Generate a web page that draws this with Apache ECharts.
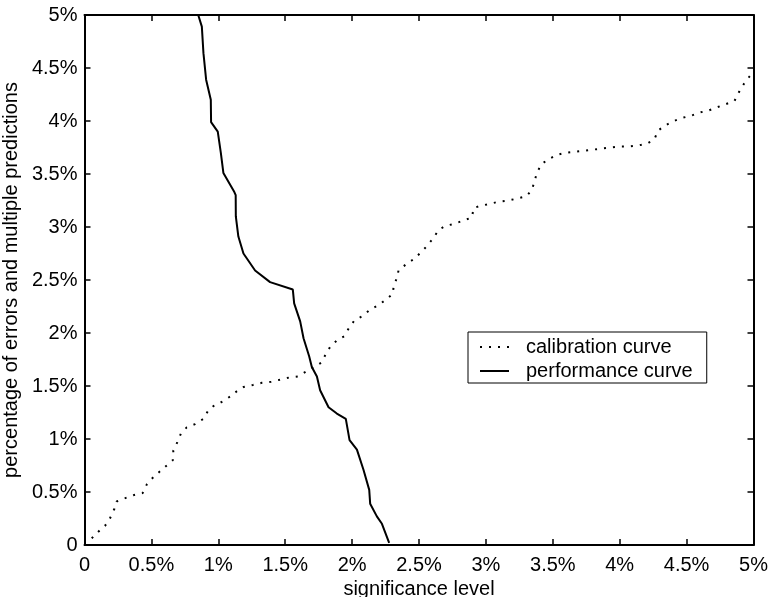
<!DOCTYPE html>
<html>
<head>
<meta charset="utf-8">
<script src="https://cdn.jsdelivr.net/npm/echarts@6/dist/echarts.min.js"></script>
<style>
html,body{margin:0;padding:0;background:#fff;}
#chart{width:770px;height:597px;}
</style>
</head>
<body>
<div id="chart"></div>
<script>
// Axis ticks (percent units)
const xTicks = [0, 0.5, 1, 1.5, 2, 2.5, 3, 3.5, 4, 4.5, 5];
const yTicks = [0, 0.5, 1, 1.5, 2, 2.5, 3, 3.5, 4, 4.5, 5];

// calibration curve (dotted)
const calX = [0.054,0.103,0.153,0.19,0.223,0.24,0.30,0.365,0.435,0.465,0.507,0.56,0.61,0.66,0.664,0.694,0.72,0.764,0.826,0.889,0.921,0.963,1.026,1.088,1.138,1.188,1.258,1.325,1.395,1.462,1.53,1.594,1.662,1.769,1.799,1.836,1.886,1.941,1.978,2.018,2.078,2.135,2.193,2.248,2.305,2.31,2.335,2.347,2.405,2.464,2.514,2.559,2.604,2.646,2.696,2.764,2.829,2.896,2.908,2.963,3.033,3.10,3.17,3.237,3.302,3.345,3.362,3.382,3.412,3.469,3.532,3.594,3.664,3.73,3.80,3.868,3.938,4.005,4.075,4.142,4.21,4.26,4.287,4.342,4.404,4.469,4.534,4.598,4.666,4.729,4.796,4.858,4.89,4.928,4.97,5.0];
const calY = [0.063,0.125,0.18,0.25,0.34,0.41,0.44,0.47,0.49,0.57,0.63,0.69,0.745,0.80,0.89,0.97,1.05,1.11,1.14,1.19,1.26,1.31,1.35,1.40,1.45,1.49,1.51,1.53,1.54,1.56,1.58,1.59,1.64,1.72,1.79,1.87,1.93,1.97,2.05,2.12,2.16,2.22,2.26,2.31,2.37,2.44,2.52,2.59,2.65,2.70,2.76,2.82,2.89,2.97,3.01,3.03,3.06,3.09,3.18,3.20,3.22,3.24,3.25,3.27,3.29,3.35,3.43,3.51,3.59,3.64,3.68,3.70,3.71,3.72,3.73,3.74,3.75,3.76,3.76,3.77,3.79,3.83,3.91,3.96,4.00,4.03,4.05,4.08,4.10,4.13,4.16,4.19,4.27,4.35,4.42,4.46];

// performance curve (solid)
const perfX = [0.85,0.877,0.889,0.909,0.944,0.946,0.996,1.019,1.038,1.12,1.13,1.131,1.15,1.188,1.275,1.387,1.557,1.567,1.612,1.637,1.679,1.699,1.737,1.761,1.824,1.886,1.953,1.981,2.036,2.085,2.128,2.135,2.185,2.223,2.277];
const perfY = [5,4.89,4.64,4.39,4.20,3.99,3.90,3.70,3.51,3.33,3.30,3.10,2.91,2.75,2.59,2.48,2.41,2.28,2.11,1.95,1.78,1.68,1.59,1.46,1.30,1.24,1.19,0.99,0.90,0.71,0.52,0.39,0.27,0.20,0.02];

const seriesNames = ['calibration curve', 'performance curve'];
const xName = 'significance level';
const yName = 'percentage of errors and multiple predictions';

const FONT = '"Liberation Sans", Arial, Helvetica, sans-serif';
const fmt = v => (v === 0 ? '0' : (Math.round(v * 10) / 10) + '%');

const baseAxis = {
  type: 'value', min: 0, max: 5, interval: 0.5,
  axisLine: { show: true, onZero: false, lineStyle: { color: '#000', width: 2 } },
  axisTick: { show: true, inside: true, length: 6, lineStyle: { color: '#000', width: 1.5 } },
  splitLine: { show: false }
};

const chart = echarts.init(document.getElementById('chart'), null, { renderer: 'canvas' });
chart.setOption({
  backgroundColor: '#fff',
  animation: false,
  textStyle: { fontFamily: FONT, color: '#000' },
  grid: { left: 84.5, right: 16.5, top: 15, bottom: 52, containLabel: false, outerBoundsMode: 'none' },
  legend: {
    orient: 'vertical',
    left: 468, top: 332,
    data: seriesNames,
    itemWidth: 29, itemHeight: 14, itemGap: 2,
    padding: [4, 14, 1, 11],
    borderColor: '#000', borderWidth: 1,
    backgroundColor: '#fff',
    itemStyle: { opacity: 0 },
    textStyle: { fontFamily: FONT, fontSize: 20, color: '#000', lineHeight: 22, padding: [0, 0, 0, 12] }
  },
  xAxis: [
    Object.assign({}, baseAxis, {
      position: 'bottom',
      name: xName, nameLocation: 'middle', nameGap: 33,
      nameTextStyle: { fontFamily: FONT, fontSize: 20, color: '#000' },
      axisLabel: { show: true, margin: 10, fontSize: 20, color: '#000', fontFamily: FONT, formatter: fmt,
        customValues: xTicks }
    }),
    Object.assign({}, baseAxis, { position: 'top', axisLabel: { show: false } })
  ],
  yAxis: [
    Object.assign({}, baseAxis, {
      position: 'left',
      name: yName, nameLocation: 'middle', nameGap: 53, nameRotate: 90,
      nameTextStyle: { fontFamily: FONT, fontSize: 20, color: '#000' },
      axisLabel: { show: true, margin: 7, fontSize: 20, color: '#000', fontFamily: FONT, formatter: fmt,
        customValues: yTicks }
    }),
    Object.assign({}, baseAxis, { position: 'right', axisLabel: { show: false } })
  ],
  series: [
    {
      name: seriesNames[0], type: 'line', xAxisIndex: 0, yAxisIndex: 0,
      data: calX.map((x, i) => [x, calY[i]]),
      showSymbol: false, symbol: 'none', smooth: false,
      lineStyle: { color: '#000', width: 2, type: [2, 7] },
      itemStyle: { color: '#000' }
    },
    {
      name: seriesNames[1], type: 'line', xAxisIndex: 0, yAxisIndex: 0,
      data: perfX.map((x, i) => [x, perfY[i]]),
      showSymbol: false, symbol: 'none', smooth: false,
      lineStyle: { color: '#000', width: 2, type: 'solid' },
      itemStyle: { color: '#000' }
    }
  ]
});
</script>
</body>
</html>
